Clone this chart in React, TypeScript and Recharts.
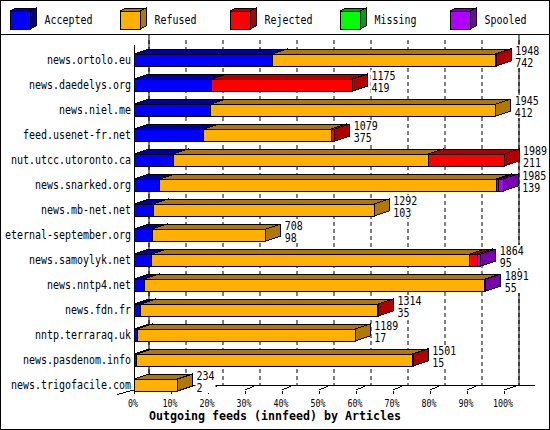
import React from "react";
import { BarChart, Bar, XAxis, YAxis, CartesianGrid, ReferenceLine, LabelList } from "recharts";

// innfeed peers, top to bottom
const HOSTS = [
  "news.ortolo.eu", "news.daedelys.org", "news.niel.me", "feed.usenet-fr.net",
  "nut.utcc.utoronto.ca", "news.snarked.org", "news.mb-net.net", "eternal-september.org",
  "news.samoylyk.net", "news.nntp4.net", "news.fdn.fr", "nntp.terraraq.uk",
  "news.pasdenom.info", "news.trigofacile.com",
];

// articles offered (top number) and accepted (bottom number)
const OFFERED = [1948, 1175, 1945, 1079, 1989, 1985, 1292, 708, 1864, 1891, 1314, 1189, 1501, 234];
const ACCEPTED = [742, 419, 412, 375, 211, 139, 103, 98, 95, 55, 35, 17, 15, 2];
const REFUSED = [1200, 0, 1533, 686, 1370, 1808, 1189, 610, 1711, 1831, 1275, 1172, 1482, 232];
const REJECTED = [6, 756, 0, 18, 408, 14, 0, 0, 40, 0, 4, 0, 4, 0];
const MISSING = [0, 0, 0, 0, 0, 0, 0, 0, 0, 0, 0, 0, 0, 0];
const SPOOLED = [0, 0, 0, 0, 0, 24, 0, 0, 18, 5, 0, 0, 0, 0];

const TICK_LABELS = ["0%", "10%", "20%", "30%", "40%", "50%", "60%", "70%", "80%", "90%", "100%"];
const TITLE = "Outgoing feeds (innfeed) by Articles";

const SERIES = [
  { key: "accepted", name: "Accepted", front: "#0000ff", side: "#0000a0" },
  { key: "refused", name: "Refused", front: "#ffb000", side: "#b07800" },
  { key: "rejected", name: "Rejected", front: "#ff0000", side: "#b00000" },
  { key: "missing", name: "Missing", front: "#00ff00", side: "#00a000" },
  { key: "spooled", name: "Spooled", front: "#b000ff", side: "#7800b0" },
];

const VALUES: Record<string, number[]> = {
  accepted: ACCEPTED, refused: REFUSED, rejected: REJECTED, missing: MISSING, spooled: SPOOLED,
};

const DATA = HOSTS.map((host, i) => {
  const row: Record<string, any> = { host, offered: OFFERED[i] };
  SERIES.forEach(s => { row[s.key] = VALUES[s.key][i]; });
  return row;
});

const MAX = Math.max(...OFFERED);
const TICKS = TICK_LABELS.map((_, i) => (MAX * i) / (TICK_LABELS.length - 1));
const BOTTOM_ROW = OFFERED[OFFERED.length - 1];

const MONO = "'DejaVu Sans Mono', monospace";
// 3D depth: recharts rect is the back face, front face sits DX left / DY down
const DX = 15;
const DY = 5;
const SHIFT = 7;
const BAR = 12;
const BAND_GAP = 6.5; // (25px band - 12px bar) / 2

function boxShape(front: string, side: string) {
  return (p: any) => {
    const { x, y, width: w, height: h } = p;
    if (!w || w <= 0) return <g />;
    const bx = x, by = y + SHIFT;
    const fx = bx - DX, fy = by + DY;
    return (
      <g shapeRendering="crispEdges" stroke="#000" strokeWidth={1}>
        <polygon points={`${fx},${fy} ${fx + w},${fy} ${bx + w},${by} ${bx},${by}`} fill={side} />
        <polygon points={`${fx + w},${fy} ${bx + w},${by} ${bx + w},${by + h} ${fx + w},${fy + h}`} fill={side} />
        <rect x={fx} y={fy} width={w} height={h} fill={front} />
      </g>
    );
  };
}

// back-wall floor line, drawn under the bars from the bottom row's band
function floorBackground(p: any) {
  if (p.index !== HOSTS.length - 1) return <g />;
  const fy = p.y + p.height + BAND_GAP;
  return (
    <line x1={p.x} x2={p.x + p.width} y1={fy} y2={fy} stroke="#000" shapeRendering="crispEdges" />
  );
}

function ValueLabel(p: any) {
  const vb = p.viewBox ?? p;
  const x = vb.x ?? p.x, y = vb.y ?? p.y, width = vb.width ?? p.width;
  const i = p.index;
  if (i == null) return null;
  const a = String(OFFERED[i]);
  const b = String(ACCEPTED[i]);
  const lx = x + width + 4;
  const by = y + SHIFT;
  return (
    <g>
      <rect x={lx - 1} y={by - 4} width={Math.max(a.length, b.length) * 6 + 2} height={23} fill="#fff" />
      <text x={lx} y={by + 6} fontFamily={MONO} fontSize={12} fill="#000"
        textLength={a.length * 6} lengthAdjust="spacingAndGlyphs">{a}</text>
      <text x={lx} y={by + 17.5} fontFamily={MONO} fontSize={12} fill="#000"
        textLength={b.length * 6} lengthAdjust="spacingAndGlyphs">{b}</text>
    </g>
  );
}

function HostTick(p: any) {
  const s = String(p.payload.value);
  return (
    <text x={p.x - 18} y={p.y + 16} textAnchor="end" fontFamily={MONO} fontSize={12} fill="#000"
      textLength={s.length * 6} lengthAdjust="spacingAndGlyphs">{s}</text>
  );
}

function PercentTick(p: any) {
  const { x, y, index } = p;
  const s = TICK_LABELS[index] ?? "";
  const xf = x - DX;
  const last = index === TICK_LABELS.length - 1;
  // the little 3D tick is hidden behind the bottom bar where it reaches
  const hidden = TICKS[index] <= BOTTOM_ROW;
  return (
    <g>
      <g shapeRendering="crispEdges" stroke="#000" strokeWidth={1} fill="none">
        <line x1={xf} y1={y + 9} x2={xf} y2={y + 5.5} />
        {!hidden && !last && <line x1={xf} y1={y + 5} x2={xf + 7} y2={y + 2} />}
        {index === 0 && <line x1={xf - 17} y1={y + 9.5} x2={xf} y2={y + 5} />}
        {last && <line x1={xf} y1={y + 5} x2={x} y2={y} />}
        {last && <line x1={x} y1={y} x2={x + 16} y2={y} />}
      </g>
      {!hidden && !last && <rect x={xf + 7} y={y} width={2} height={2} fill="#000" />}
      <text x={xf - 1} y={y + 21.5} textAnchor="middle" fontFamily={MONO} fontSize={10} fill="#000"
        textLength={s.length * 5} lengthAdjust="spacingAndGlyphs">{s}</text>
    </g>
  );
}

function Legend3D() {
  return (
    <g>
      {SERIES.map((s, i) => {
        const cx = 10 + i * 110;
        return (
          <g key={s.key}>
            <g stroke="#000" shapeRendering="crispEdges">
              <polygon points={`${cx},11 ${cx + 20},11 ${cx + 26},8 ${cx + 6},8`} fill={s.side} />
              <polygon points={`${cx + 20},11 ${cx + 26},8 ${cx + 26},26 ${cx + 20},29`} fill={s.side} />
              <rect x={cx} y={11} width={20} height={18} fill={s.front} />
            </g>
            <text x={cx + 34.5} y={24} fontFamily={MONO} fontSize={12} fill="#000"
              textLength={s.name.length * 6} lengthAdjust="spacingAndGlyphs">{s.name}</text>
          </g>
        );
      })}
    </g>
  );
}

export default function App() {
  return (
    <div style={{ position: "absolute", left: 0, top: 0, width: 550, height: 430, background: "#fff" }}>
      <div style={{ position: "absolute", left: 0, top: 0 }}>
        <BarChart width={550} height={430} data={DATA} layout="vertical" barSize={BAR}
          margin={{ top: 35, right: 31, bottom: 15, left: 0 }}>
          <CartesianGrid horizontal={false} stroke="#000" strokeDasharray="4 3" y={40} height={345} />
          <CartesianGrid horizontal={false} stroke="#000" verticalValues={[0, MAX]} />
          <ReferenceLine x={0} shape={(p: any) => (
            <line x1={p.x1 - DX} x2={p.x2 - DX} y1={Math.min(p.y1, p.y2) + 10} y2={Math.max(p.y1, p.y2) + DY}
              stroke="#000" shapeRendering="crispEdges" />
          )} />
          <XAxis type="number" domain={[0, MAX]} ticks={TICKS} interval={0} height={30}
            axisLine={false} tickLine={false} tickSize={0} tickMargin={0}
            tick={(p: any) => <PercentTick {...p} />} />
          <YAxis type="category" dataKey="host" width={149} axisLine={false}
            tickLine={false} tickSize={0} tickMargin={0} interval={0}
            tick={(p: any) => <HostTick {...p} />} />
          {SERIES.map((s, i) => (
            <Bar key={s.key} dataKey={s.key} stackId="a" fill={s.front}
              background={i === 0 ? floorBackground : undefined}
              shape={boxShape(s.front, s.side)} isAnimationActive={false}>
              {i === SERIES.length - 1 && <LabelList dataKey="offered" content={(p: any) => <ValueLabel {...p} />} />}
            </Bar>
          ))}
        </BarChart>
      </div>
      <svg width={550} height={430} style={{ position: "absolute", left: 0, top: 0, pointerEvents: "none" }}>
        <rect x={0.5} y={0.5} width={549} height={429} fill="none" stroke="#000" shapeRendering="crispEdges" />
        <line x1={0} y1={34.5} x2={550} y2={34.5} stroke="#000" shapeRendering="crispEdges" />
        <Legend3D />
        <text x={275} y={420} textAnchor="middle" fontFamily={MONO} fontWeight="bold" fontSize={12} fill="#000"
          textLength={TITLE.length * 7} lengthAdjust="spacingAndGlyphs">{TITLE}</text>
      </svg>
    </div>
  );
}
